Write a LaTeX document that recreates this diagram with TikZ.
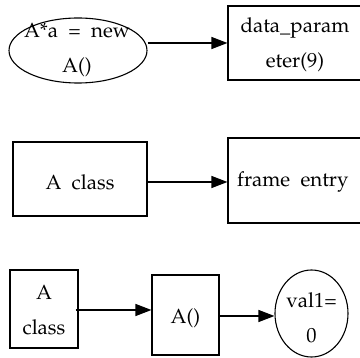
\documentclass[tikz,border=0pt]{standalone}
\usepackage[T1]{fontenc}
\usepackage{mathpazo}
\usetikzlibrary{shapes.geometric,arrows.meta}
\begin{document}
\begin{tikzpicture}[x=1pt,y=-1pt,
  shapeline/.style={draw, line width=1.1pt, inner sep=0pt},
  boxnode/.style={shapeline, rectangle},
  ovalnode/.style={shapeline, ellipse},
  lbl/.style={font=\fontsize{20.5}{35}\selectfont, align=center, inner sep=0pt},
  link/.style={line width=1.3pt, -{Triangle[length=16pt,width=12pt]}}]
\useasboundingbox (0,0) rectangle (360,358);

% first row: allocation expression and its parameter frame
\node[ovalnode, minimum width=138pt, minimum height=65pt] (alloc) at (78,50.5) {};
\node[lbl] (alloctxt) at (77,50) {A*a\ \ =\ \ new\\A()};
\node[boxnode, minimum width=134pt, minimum height=74pt] (param) at (295,43) {};
\node[lbl] (paramtxt) at (295,44.5) {data\_param\\eter(9)};
\draw[link] (alloc.east |- param.west) -- (param.west);

% second row: class to frame entry
\node[boxnode, minimum width=134pt, minimum height=74pt] (cls) at (80,179) {};
\node[lbl] (clstxt) at (80,182) {A\ \ class};
\node[boxnode, minimum width=134pt, minimum height=85pt] (frame) at (295,180.5) {};
\node[lbl, anchor=west] (frametxt) at (237,182) {frame\ \ entry};
\draw[link] (cls.east |- clstxt) -- (frame.west |- clstxt);

% third row: class, constructor, initial value
\node[boxnode, minimum width=68pt, minimum height=78pt] (cls2) at (44,309) {};
\node[lbl] (cls2txt) at (44,310.5) {A\\class};
\node[boxnode, minimum width=67pt, minimum height=80pt] (ctor) at (185.5,315) {};
\node[lbl] (ctortxt) at (185.5,318) {A()};
\node[ovalnode, minimum width=73pt, minimum height=87pt] (val) at (311.5,313.5) {};
\node[lbl] (valtxt) at (311.5,317.5) {val1=\\0};
\draw[link] ([xshift=-3pt]cls2.east |- 0,310) -- (ctor.west |- 0,310);
\draw[link] (ctor.east |- 0,316) -- (val.west |- 0,316);
\end{tikzpicture}
\end{document}
